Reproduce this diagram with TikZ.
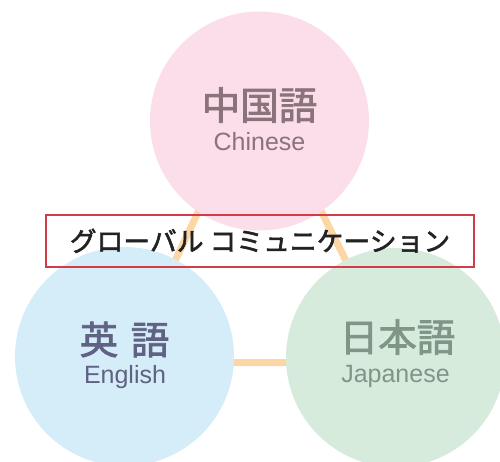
\documentclass[tikz,border=0pt]{standalone}
\usepackage{fontspec}
\setmainfont{Liberation Sans}
\newfontfamily\jp[FakeBold=2]{Noto Sans CJK JP}
\newfontfamily\jpm[FakeBold=2]{Noto Sans CJK JP}
\definecolor{pinkfill}{HTML}{FBDEE9}
\definecolor{bluefill}{HTML}{D5ECF9}
\definecolor{greenfill}{HTML}{D7EBDD}
\definecolor{linkorange}{HTML}{FDD6A5}
\definecolor{boxred}{HTML}{D13C48}
\definecolor{pinktext}{HTML}{8A737B}
\definecolor{bluetext}{HTML}{5F6282}
\definecolor{greentext}{HTML}{7F9687}
\definecolor{darktext}{HTML}{222222}
\tikzset{
  langcircle/.style={circle, inner sep=0pt, minimum size=219pt},
  link/.style={draw=linkorange, line width=7pt},
  bigtxt/.style={inner sep=0pt, font=\jpm\fontsize{38.5}{40}\selectfont},
  smalltxt/.style={inner sep=0pt, font=\fontsize{25}{27}\selectfont},
  titlebox/.style={draw=boxred, line width=2pt, minimum width=428.6pt, minimum height=51.7pt, inner sep=0pt, text=darktext, font=\jp\fontsize{26.8}{28}\selectfont}
}
\begin{document}
\begin{tikzpicture}[x=1pt,y=-1pt]
\useasboundingbox (0,0) rectangle (500,461);
\coordinate (apex) at (258,85);
\coordinate (lv) at (127,362.7);
\coordinate (rv) at (397,362.7);
\draw[link] (apex) -- (lv) -- (rv) -- cycle;
\node[langcircle, fill=pinkfill] (zh) at (259.5,121) {};
\node[langcircle, fill=bluefill] (en) at (124.5,356.5) {};
\node[langcircle, fill=greenfill] (ja) at (395.5,357.5) {};
\node[titlebox] (title) at (260,240.8) {グローバル コミュニケーション};
\node[bigtxt, text=pinktext] (zhk) at (259.5,105) {中国語};
\node[smalltxt, text=pinktext, anchor=base] (zhe) at (259.5,150) {Chinese};
\node[bigtxt, text=bluetext] (enk) at (124.5,339.5) {英\hspace{4pt} 語};
\node[smalltxt, text=bluetext, anchor=base] (ene) at (125,383) {English};
\node[bigtxt, text=greentext] (jak) at (397.5,337) {日本語};
\node[smalltxt, text=greentext, anchor=base] (jae) at (395.5,382) {Japanese};
\end{tikzpicture}
\end{document}
